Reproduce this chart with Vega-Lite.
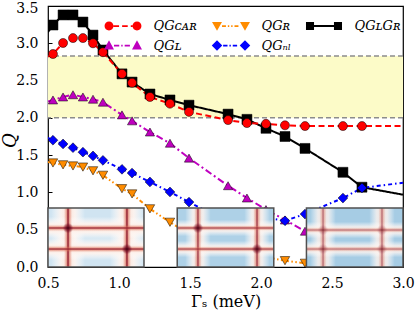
{
  "$schema": "https://vega.github.io/schema/vega-lite/v6.json",
  "width": 355,
  "height": 261,
  "autosize": {"type": "none"},
  "padding": {"left": 48, "top": 6, "right": 12, "bottom": 44},
  "background": "white",
  "config": {
    "view": {"stroke": "black", "strokeWidth": 1.2},
    "axis": {
      "grid": false, "domain": false, "labelOverlap": false, "labelFlush": false,
      "labelFont": "DejaVu Serif", "labelFontSize": 14, "labelColor": "black",
      "tickColor": "black", "tickSize": -4, "tickWidth": 1,
      "titleFont": "DejaVu Serif", "titleColor": "black", "titleFontWeight": "normal", "titleFontSize": 16
    },
    "axisY": {"labelOverlap": false, "labelSeparation": 0}
  },
  "datasets": {
    "band": [{"lo": 2.0, "hi": 2.83}],
    "hl": [{"v": 2.0}, {"v": 2.83}],
    "pts": [
      {"s": "GLGR", "x": 0.5, "y": 3.15, "m": 0},
      {"s": "GLGR", "x": 0.535, "y": 3.245, "m": 1},
      {"s": "GLGR", "x": 0.606, "y": 3.38, "m": 1},
      {"s": "GLGR", "x": 0.676, "y": 3.38, "m": 1},
      {"s": "GLGR", "x": 0.746, "y": 3.285, "m": 1},
      {"s": "GLGR", "x": 0.817, "y": 3.11, "m": 1},
      {"s": "GLGR", "x": 0.887, "y": 2.91, "m": 1},
      {"s": "GLGR", "x": 1.021, "y": 2.59, "m": 1},
      {"s": "GLGR", "x": 1.092, "y": 2.48, "m": 1},
      {"s": "GLGR", "x": 1.218, "y": 2.32, "m": 1},
      {"s": "GLGR", "x": 1.359, "y": 2.24, "m": 1},
      {"s": "GLGR", "x": 1.493, "y": 2.17, "m": 1},
      {"s": "GLGR", "x": 1.768, "y": 2.05, "m": 1},
      {"s": "GLGR", "x": 1.901, "y": 1.98, "m": 1},
      {"s": "GLGR", "x": 2.035, "y": 1.86, "m": 1},
      {"s": "GLGR", "x": 2.169, "y": 1.75, "m": 1},
      {"s": "GLGR", "x": 2.31, "y": 1.59, "m": 1},
      {"s": "GLGR", "x": 2.577, "y": 1.27, "m": 1},
      {"s": "GLGR", "x": 2.711, "y": 1.07, "m": 1},
      {"s": "GLGR", "x": 3.0, "y": 0.97, "m": 0},
      {"s": "GCAR", "x": 0.5, "y": 2.82, "m": 0},
      {"s": "GCAR", "x": 0.535, "y": 2.856, "m": 1},
      {"s": "GCAR", "x": 0.606, "y": 3.004, "m": 1},
      {"s": "GCAR", "x": 0.676, "y": 3.07, "m": 1},
      {"s": "GCAR", "x": 0.746, "y": 3.07, "m": 1},
      {"s": "GCAR", "x": 0.817, "y": 3.0, "m": 1},
      {"s": "GCAR", "x": 0.887, "y": 2.88, "m": 1},
      {"s": "GCAR", "x": 1.021, "y": 2.59, "m": 1},
      {"s": "GCAR", "x": 1.092, "y": 2.47, "m": 1},
      {"s": "GCAR", "x": 1.218, "y": 2.28, "m": 1},
      {"s": "GCAR", "x": 1.359, "y": 2.19, "m": 1},
      {"s": "GCAR", "x": 1.493, "y": 2.08, "m": 1},
      {"s": "GCAR", "x": 1.768, "y": 1.97, "m": 1},
      {"s": "GCAR", "x": 1.901, "y": 1.93, "m": 1},
      {"s": "GCAR", "x": 2.035, "y": 1.92, "m": 1},
      {"s": "GCAR", "x": 2.169, "y": 1.9, "m": 1},
      {"s": "GCAR", "x": 2.31, "y": 1.89, "m": 1},
      {"s": "GCAR", "x": 2.577, "y": 1.89, "m": 1},
      {"s": "GCAR", "x": 2.711, "y": 1.89, "m": 1},
      {"s": "GCAR", "x": 3.0, "y": 1.89, "m": 0},
      {"s": "GL", "x": 0.5, "y": 2.22, "m": 0},
      {"s": "GL", "x": 0.535, "y": 2.24, "m": 1},
      {"s": "GL", "x": 0.606, "y": 2.28, "m": 1},
      {"s": "GL", "x": 0.676, "y": 2.31, "m": 1},
      {"s": "GL", "x": 0.746, "y": 2.28, "m": 1},
      {"s": "GL", "x": 0.817, "y": 2.25, "m": 1},
      {"s": "GL", "x": 0.887, "y": 2.21, "m": 1},
      {"s": "GL", "x": 1.021, "y": 2.04, "m": 1},
      {"s": "GL", "x": 1.092, "y": 1.96, "m": 1},
      {"s": "GL", "x": 1.218, "y": 1.81, "m": 1},
      {"s": "GL", "x": 1.359, "y": 1.66, "m": 1},
      {"s": "GL", "x": 1.493, "y": 1.46, "m": 1},
      {"s": "GL", "x": 1.768, "y": 1.09, "m": 1},
      {"s": "GL", "x": 1.901, "y": 0.925, "m": 1},
      {"s": "GL", "x": 2.035, "y": 0.77, "m": 1},
      {"s": "GL", "x": 2.169, "y": 0.63, "m": 1},
      {"s": "GL", "x": 2.31, "y": 0.48, "m": 1},
      {"s": "Gnl", "x": 0.5, "y": 1.73, "m": 0},
      {"s": "Gnl", "x": 0.535, "y": 1.7, "m": 1},
      {"s": "Gnl", "x": 0.606, "y": 1.65, "m": 1},
      {"s": "Gnl", "x": 0.676, "y": 1.6, "m": 1},
      {"s": "Gnl", "x": 0.746, "y": 1.54, "m": 1},
      {"s": "Gnl", "x": 0.817, "y": 1.49, "m": 1},
      {"s": "Gnl", "x": 0.887, "y": 1.43, "m": 1},
      {"s": "Gnl", "x": 1.021, "y": 1.31, "m": 1},
      {"s": "Gnl", "x": 1.092, "y": 1.26, "m": 1},
      {"s": "Gnl", "x": 1.218, "y": 1.14, "m": 1},
      {"s": "Gnl", "x": 1.359, "y": 1.006, "m": 1},
      {"s": "Gnl", "x": 1.493, "y": 0.87, "m": 1},
      {"s": "Gnl", "x": 1.768, "y": 0.6, "m": 1},
      {"s": "Gnl", "x": 1.901, "y": 0.56, "m": 1},
      {"s": "Gnl", "x": 2.035, "y": 0.66, "m": 1},
      {"s": "Gnl", "x": 2.169, "y": 0.62, "m": 1},
      {"s": "Gnl", "x": 2.31, "y": 0.71, "m": 1},
      {"s": "Gnl", "x": 2.577, "y": 0.925, "m": 1},
      {"s": "Gnl", "x": 2.711, "y": 1.06, "m": 1},
      {"s": "Gnl", "x": 3.0, "y": 1.13, "m": 0},
      {"s": "GR", "x": 0.5, "y": 1.41, "m": 0},
      {"s": "GR", "x": 0.535, "y": 1.395, "m": 1},
      {"s": "GR", "x": 0.606, "y": 1.37, "m": 1},
      {"s": "GR", "x": 0.676, "y": 1.355, "m": 1},
      {"s": "GR", "x": 0.746, "y": 1.34, "m": 1},
      {"s": "GR", "x": 0.817, "y": 1.29, "m": 1},
      {"s": "GR", "x": 0.887, "y": 1.23, "m": 1},
      {"s": "GR", "x": 1.021, "y": 1.05, "m": 1},
      {"s": "GR", "x": 1.092, "y": 0.98, "m": 1},
      {"s": "GR", "x": 1.218, "y": 0.78, "m": 1},
      {"s": "GR", "x": 1.359, "y": 0.6, "m": 1},
      {"s": "GR", "x": 1.493, "y": 0.45, "m": 1},
      {"s": "GR", "x": 1.768, "y": 0.27, "m": 1},
      {"s": "GR", "x": 1.901, "y": 0.19, "m": 1},
      {"s": "GR", "x": 2.035, "y": 0.13, "m": 1},
      {"s": "GR", "x": 2.169, "y": 0.085, "m": 1},
      {"s": "GR", "x": 2.31, "y": 0.05, "m": 1},
      {"s": "GR", "x": 2.577, "y": 0.0, "m": 1},
      {"s": "GR", "x": 2.711, "y": -0.01, "m": 1},
      {"s": "GR", "x": 3.0, "y": -0.01, "m": 0}
    ],
    "insets": [
      {"i": 1, "x1": 0.5, "x2": 1.176, "y1": 0, "y2": 0.79},
      {"i": 2, "x1": 1.41, "x2": 2.09, "y1": 0, "y2": 0.79},
      {"i": 3, "x1": 2.32, "x2": 3.0, "y1": 0, "y2": 0.79}
    ],
    "bands": [
      {"i": 1, "k": "halo", "o": "v", "x1": 0.521, "x2": 0.761, "y1": 0, "y2": 0.79, "st": 1},
      {"i": 1, "k": "halo", "o": "v", "x1": 0.936, "x2": 1.176, "y1": 0, "y2": 0.79, "st": 1},
      {"i": 1, "k": "halo", "o": "h", "x1": 0.5, "x2": 1.176, "y1": 0.373, "y2": 0.673, "st": 1},
      {"i": 1, "k": "halo", "o": "h", "x1": 0.5, "x2": 1.176, "y1": 0.091, "y2": 0.391, "st": 1},
      {"i": 1, "k": "core", "o": "v", "x1": 0.613, "x2": 0.669, "y1": 0, "y2": 0.79, "st": 1},
      {"i": 1, "k": "core", "o": "v", "x1": 1.028, "x2": 1.084, "y1": 0, "y2": 0.79, "st": 1},
      {"i": 1, "k": "core", "o": "h", "x1": 0.5, "x2": 1.176, "y1": 0.483, "y2": 0.563, "st": 1},
      {"i": 1, "k": "core", "o": "h", "x1": 0.5, "x2": 1.176, "y1": 0.201, "y2": 0.281, "st": 1},
      {"i": 2, "k": "halo", "o": "v", "x1": 1.466, "x2": 1.646, "y1": 0, "y2": 0.79, "st": 0.9},
      {"i": 2, "k": "halo", "o": "v", "x1": 1.882, "x2": 2.062, "y1": 0, "y2": 0.79, "st": 0.9},
      {"i": 2, "k": "halo", "o": "h", "x1": 1.41, "x2": 2.09, "y1": 0.413, "y2": 0.633, "st": 0.9},
      {"i": 2, "k": "halo", "o": "h", "x1": 1.41, "x2": 2.09, "y1": 0.131, "y2": 0.351, "st": 0.9},
      {"i": 2, "k": "core", "o": "v", "x1": 1.53, "x2": 1.582, "y1": 0, "y2": 0.79, "st": 0.85},
      {"i": 2, "k": "core", "o": "v", "x1": 1.946, "x2": 1.998, "y1": 0, "y2": 0.79, "st": 0.85},
      {"i": 2, "k": "core", "o": "h", "x1": 1.41, "x2": 2.09, "y1": 0.488, "y2": 0.558, "st": 0.85},
      {"i": 2, "k": "core", "o": "h", "x1": 1.41, "x2": 2.09, "y1": 0.206, "y2": 0.276, "st": 0.85},
      {"i": 3, "k": "halo", "o": "v", "x1": 2.347, "x2": 2.527, "y1": 0, "y2": 0.79, "st": 0.85},
      {"i": 3, "k": "halo", "o": "v", "x1": 2.762, "x2": 2.942, "y1": 0, "y2": 0.79, "st": 0.85},
      {"i": 3, "k": "halo", "o": "h", "x1": 2.32, "x2": 3.0, "y1": 0.386, "y2": 0.606, "st": 0.85},
      {"i": 3, "k": "halo", "o": "h", "x1": 2.32, "x2": 3.0, "y1": 0.131, "y2": 0.351, "st": 0.85},
      {"i": 3, "k": "core", "o": "v", "x1": 2.413, "x2": 2.461, "y1": 0, "y2": 0.79, "st": 0.6},
      {"i": 3, "k": "core", "o": "v", "x1": 2.828, "x2": 2.876, "y1": 0, "y2": 0.79, "st": 0.6},
      {"i": 3, "k": "core", "o": "h", "x1": 2.32, "x2": 3.0, "y1": 0.461, "y2": 0.531, "st": 0.6},
      {"i": 3, "k": "core", "o": "h", "x1": 2.32, "x2": 3.0, "y1": 0.206, "y2": 0.276, "st": 0.6}
    ],
    "spots": [
      {"x": 0.641, "y": 0.523, "st": 1},
      {"x": 1.056, "y": 0.241, "st": 1},
      {"x": 1.556, "y": 0.523, "st": 0.9},
      {"x": 1.972, "y": 0.241, "st": 0.9},
      {"x": 2.437, "y": 0.496, "st": 0.35},
      {"x": 2.852, "y": 0.496, "st": 0.35},
      {"x": 2.437, "y": 0.241, "st": 0.35},
      {"x": 2.852, "y": 0.241, "st": 0.35}
    ]
  },
  "layer": [
    {
      "data": {"name": "pts"},
      "mark": {"type": "line", "strokeWidth": 2, "opacity": 0},
      "encoding": {
        "x": {"field": "x", "type": "quantitative", "scale": {"domain": [0.5, 3.0], "nice": false, "zero": false},
              "axis": {"values": [0.5, 1, 1.5, 2, 2.5, 3], "format": ".1f", "title": "Γₛ (meV)", "labelPadding": 13, "titlePadding": 3, "labelOverlap": false, "labelFlush": false}},
        "y": {"field": "y", "type": "quantitative", "scale": {"domain": [0, 3.5], "nice": false, "zero": false},
              "axis": {"tickCount": 7, "format": ".1f", "title": "Q", "titleFontStyle": "italic", "titleFontSize": 18, "labelPadding": 14, "titleX": -29, "titleY": 134, "labelOverlap": false, "labelFlush": false, "labelSeparation": 0,
                       "labelOffset": {"condition": {"test": "datum.value >= 3.5", "value": 2}, "value": 0}}},
        "detail": {"field": "s", "type": "nominal"}
      }
    },
    {
      "data": {"name": "band"},
      "mark": {"type": "rect", "fill": "#fcfbc8"},
      "encoding": {
        "y": {"field": "lo", "type": "quantitative", "scale": {"domain": [0, 3.5], "nice": false, "zero": false}},
        "y2": {"field": "hi"}
      }
    },
    {
      "data": {"name": "hl"},
      "mark": {"type": "rule", "stroke": "#8c8c8c", "strokeWidth": 1.5, "strokeDash": [5, 3]},
      "encoding": {
        "y": {"field": "v", "type": "quantitative", "scale": {"domain": [0, 3.5], "nice": false, "zero": false}}
      }
    },
    {
      "data": {"name": "pts"},
      "mark": {"type": "line", "strokeWidth": 2, "clip": true},
      "encoding": {
        "x": {"field": "x", "type": "quantitative", "scale": {"domain": [0.5, 3.0], "nice": false, "zero": false}},
        "y": {"field": "y", "type": "quantitative", "scale": {"domain": [0, 3.5], "nice": false, "zero": false}},
        "color": {"field": "s", "type": "nominal", "scale": {"domain": ["GCAR", "GL", "GR", "Gnl", "GLGR"], "range": ["#ff0000", "#bf00bf", "#ff8c00", "#0000ff", "#000000"]}, "legend": null},
        "strokeDash": {"field": "s", "type": "nominal", "scale": {"domain": ["GCAR", "GL", "GR", "Gnl", "GLGR"], "range": [[6, 3.5], [7, 3, 2, 3], [4, 2.5, 1.5, 2.5, 1.5, 2.5], [4, 3, 1.5, 3], [1, 0]]}, "legend": null}
      }
    },
    {
      "data": {"name": "pts"},
      "transform": [{"filter": "datum.m == 1"}],
      "mark": {"type": "point", "filled": true, "opacity": 1, "stroke": "black", "strokeWidth": 0.5, "clip": true},
      "encoding": {
        "x": {"field": "x", "type": "quantitative", "scale": {"domain": [0.5, 3.0], "nice": false, "zero": false}},
        "y": {"field": "y", "type": "quantitative", "scale": {"domain": [0, 3.5], "nice": false, "zero": false}},
        "color": {"field": "s", "type": "nominal", "scale": {"domain": ["GCAR", "GL", "GR", "Gnl", "GLGR"], "range": ["#ff0000", "#bf00bf", "#ff8c00", "#0000ff", "#000000"]}, "legend": null},
        "shape": {"field": "s", "type": "nominal", "scale": {"domain": ["GCAR", "GL", "GR", "Gnl", "GLGR"], "range": ["circle", "triangle-up", "triangle-down", "diamond", "square"]}, "legend": null},
        "size": {"field": "s", "type": "ordinal", "scale": {"domain": ["GCAR", "GL", "GR", "Gnl", "GLGR"], "range": [81, 100, 100, 100, 64]}, "legend": null}
      }
    },
    {
      "data": {"name": "insets"},
      "mark": {"type": "rect"},
      "encoding": {
        "x": {"field": "x1", "type": "quantitative", "scale": {"domain": [0.5, 3.0], "nice": false, "zero": false}},
        "x2": {"field": "x2"},
        "y": {"field": "y1", "type": "quantitative", "scale": {"domain": [0, 3.5], "nice": false, "zero": false}},
        "y2": {"field": "y2"},
        "color": {"field": "i", "type": "nominal", "scale": {"domain": [1, 2, 3], "range": ["#d0e4f1", "#aed1e7", "#a6cce4"]}, "legend": null}
      }
    },
    {
      "data": {"name": "bands"},
      "transform": [{"filter": "datum.k == 'halo' && datum.o == 'v'"}],
      "mark": {"type": "rect", "fill": {"gradient": "linear", "x1": 0, "y1": 0, "x2": 1, "y2": 0, "stops": [
        {"offset": 0, "color": "rgba(255,255,255,0)"},
        {"offset": 0.3, "color": "rgba(253,243,238,0.95)"},
        {"offset": 0.5, "color": "rgba(251,226,214,1)"},
        {"offset": 0.7, "color": "rgba(253,243,238,0.95)"},
        {"offset": 1, "color": "rgba(255,255,255,0)"}]}},
      "encoding": {
        "x": {"field": "x1", "type": "quantitative", "scale": {"domain": [0.5, 3.0], "nice": false, "zero": false}},
        "x2": {"field": "x2"},
        "y": {"field": "y1", "type": "quantitative", "scale": {"domain": [0, 3.5], "nice": false, "zero": false}},
        "y2": {"field": "y2"},
        "opacity": {"field": "st", "type": "quantitative", "scale": null}
      }
    },
    {
      "data": {"name": "bands"},
      "transform": [{"filter": "datum.k == 'halo' && datum.o == 'h'"}],
      "mark": {"type": "rect", "fill": {"gradient": "linear", "x1": 0, "y1": 0, "x2": 0, "y2": 1, "stops": [
        {"offset": 0, "color": "rgba(255,255,255,0)"},
        {"offset": 0.3, "color": "rgba(253,243,238,0.95)"},
        {"offset": 0.5, "color": "rgba(251,226,214,1)"},
        {"offset": 0.7, "color": "rgba(253,243,238,0.95)"},
        {"offset": 1, "color": "rgba(255,255,255,0)"}]}},
      "encoding": {
        "x": {"field": "x1", "type": "quantitative", "scale": {"domain": [0.5, 3.0], "nice": false, "zero": false}},
        "x2": {"field": "x2"},
        "y": {"field": "y1", "type": "quantitative", "scale": {"domain": [0, 3.5], "nice": false, "zero": false}},
        "y2": {"field": "y2"},
        "opacity": {"field": "st", "type": "quantitative", "scale": null}
      }
    },
    {
      "data": {"name": "bands"},
      "transform": [{"filter": "datum.k == 'core' && datum.o == 'v'"}],
      "mark": {"type": "rect", "fill": {"gradient": "linear", "x1": 0, "y1": 0, "x2": 1, "y2": 0, "stops": [
        {"offset": 0, "color": "rgba(220,110,90,0)"},
        {"offset": 0.3, "color": "rgba(220,110,90,0.55)"},
        {"offset": 0.5, "color": "rgba(130,8,32,1)"},
        {"offset": 0.7, "color": "rgba(220,110,90,0.55)"},
        {"offset": 1, "color": "rgba(220,110,90,0)"}]}},
      "encoding": {
        "x": {"field": "x1", "type": "quantitative", "scale": {"domain": [0.5, 3.0], "nice": false, "zero": false}},
        "x2": {"field": "x2"},
        "y": {"field": "y1", "type": "quantitative", "scale": {"domain": [0, 3.5], "nice": false, "zero": false}},
        "y2": {"field": "y2"},
        "opacity": {"field": "st", "type": "quantitative", "scale": null}
      }
    },
    {
      "data": {"name": "bands"},
      "transform": [{"filter": "datum.k == 'core' && datum.o == 'h'"}],
      "mark": {"type": "rect", "fill": {"gradient": "linear", "x1": 0, "y1": 0, "x2": 0, "y2": 1, "stops": [
        {"offset": 0, "color": "rgba(220,110,90,0)"},
        {"offset": 0.3, "color": "rgba(220,110,90,0.55)"},
        {"offset": 0.5, "color": "rgba(130,8,32,1)"},
        {"offset": 0.7, "color": "rgba(220,110,90,0.55)"},
        {"offset": 1, "color": "rgba(220,110,90,0)"}]}},
      "encoding": {
        "x": {"field": "x1", "type": "quantitative", "scale": {"domain": [0.5, 3.0], "nice": false, "zero": false}},
        "x2": {"field": "x2"},
        "y": {"field": "y1", "type": "quantitative", "scale": {"domain": [0, 3.5], "nice": false, "zero": false}},
        "y2": {"field": "y2"},
        "opacity": {"field": "st", "type": "quantitative", "scale": null}
      }
    },
    {
      "data": {"name": "spots"},
      "mark": {"type": "point", "shape": "circle", "filled": true, "size": 110, "strokeWidth": 0,
               "fill": {"gradient": "radial", "x1": 0.5, "y1": 0.5, "r1": 0, "x2": 0.5, "y2": 0.5, "r2": 0.5, "stops": [
                 {"offset": 0, "color": "rgba(60,0,15,1)"},
                 {"offset": 0.5, "color": "rgba(103,0,31,0.6)"},
                 {"offset": 1, "color": "rgba(103,0,31,0)"}]}},
      "encoding": {
        "x": {"field": "x", "type": "quantitative", "scale": {"domain": [0.5, 3.0], "nice": false, "zero": false}},
        "y": {"field": "y", "type": "quantitative", "scale": {"domain": [0, 3.5], "nice": false, "zero": false}},
        "opacity": {"field": "st", "type": "quantitative", "scale": null}
      }
    },
    {
      "data": {"name": "insets"},
      "mark": {"type": "rect", "fill": "transparent", "stroke": "#505050", "strokeWidth": 1.5},
      "encoding": {
        "x": {"field": "x1", "type": "quantitative", "scale": {"domain": [0.5, 3.0], "nice": false, "zero": false}},
        "x2": {"field": "x2"},
        "y": {"field": "y1", "type": "quantitative", "scale": {"domain": [0, 3.5], "nice": false, "zero": false}},
        "y2": {"field": "y2"}
      }
    },
    {
      "data": {"name": "pts"},
      "transform": [{"filter": "datum.m > 5"}],
      "mark": {"type": "point", "filled": true, "opacity": 1, "size": 306},
      "encoding": {
        "x": {"field": "x", "type": "quantitative", "scale": {"domain": [0.5, 3.0], "nice": false, "zero": false}},
        "y": {"field": "y", "type": "quantitative", "scale": {"domain": [0, 3.5], "nice": false, "zero": false}},
        "color": {"field": "s", "type": "nominal",
          "scale": {"domain": ["GCAR", "GL", "GR", "Gnl", "GLGR"], "range": ["#ff0000", "#bf00bf", "#ff8c00", "#0000ff", "#000000"]},
          "legend": {"title": null, "orient": "none", "legendX": 66, "legendY": 11, "columns": 3, "columnPadding": 14, "rowPadding": 3.5, "padding": 0,
                     "symbolSize": 306, "symbolStrokeWidth": 0, "symbolOpacity": 1, "labelFont": "DejaVu Serif", "labelFontSize": 13, "labelFontStyle": "italic", "labelColor": "black", "labelOffset": 21.5,
                     "labelExpr": "datum.value == 'GCAR' ? 'QGᴄᴀʀ' : datum.value == 'GR' ? 'QGʀ' : datum.value == 'GLGR' ? 'QGʟGʀ' : datum.value == 'GL' ? 'QGʟ\u2002\u2002\u2002' : 'QGₙₗ'"}},
        "shape": {"field": "s", "type": "nominal",
          "scale": {"domain": ["GCAR", "GL", "GR", "Gnl", "GLGR"], "range": [
            "M-2.11,0A0.51,0.51,0,1,1,-1.09,0A0.51,0.51,0,1,1,-2.11,0ZM1.09,0A0.51,0.51,0,1,1,2.11,0A0.51,0.51,0,1,1,1.09,0ZM-1.09,-0.1H-0.45V0.1H-1.09ZM-0.1,-0.1H0.54V0.1H-0.1ZM0.89,-0.1H1.09V0.1H0.89Z",
            "M-1.6,-0.6L-1.03,0.45H-2.17ZM1.6,-0.6L2.17,0.45H1.03ZM-1.03,-0.1H-0.43V0.1H-1.03ZM-0.2,-0.1H-0.04V0.1H-0.2ZM0.19,-0.1H0.79V0.1H0.19Z",
            "M-2.17,-0.45H-1.03L-1.6,0.55ZM1.03,-0.45H2.17L1.6,0.55ZM-1.03,-0.1H-0.58V0.1H-1.03ZM-0.36,-0.1H-0.2V0.1H-0.36ZM0.02,-0.1H0.18V0.1H0.02ZM0.4,-0.1H0.85V0.1H0.4Z",
            "M-1.6,-0.6L-1,0L-1.6,0.6L-2.2,0ZM1.6,-0.6L2.2,0L1.6,0.6L1,0ZM-0.9,-0.1H-0.4V0.1H-0.9ZM-0.18,-0.1H-0.02V0.1H-0.18ZM0.2,-0.1H0.7V0.1H0.2Z",
            "M-2.06,-0.46H-1.14V0.46H-2.06ZM1.14,-0.46H2.06V0.46H1.14ZM-1.14,-0.11H1.14V0.11H-1.14Z"]},
          "legend": {"title": null, "orient": "none", "legendX": 66, "legendY": 11, "columns": 3, "columnPadding": 14, "rowPadding": 3.5, "padding": 0,
                     "symbolSize": 306, "symbolStrokeWidth": 0, "symbolOpacity": 1, "labelFont": "DejaVu Serif", "labelFontSize": 13, "labelFontStyle": "italic", "labelColor": "black", "labelOffset": 21.5,
                     "labelExpr": "datum.value == 'GCAR' ? 'QGᴄᴀʀ' : datum.value == 'GR' ? 'QGʀ' : datum.value == 'GLGR' ? 'QGʟGʀ' : datum.value == 'GL' ? 'QGʟ\u2002\u2002\u2002' : 'QGₙₗ'"}}
      }
    }
  ],
  "resolve": {"scale": {"color": "independent", "shape": "independent", "size": "independent", "strokeDash": "independent"}}
}
